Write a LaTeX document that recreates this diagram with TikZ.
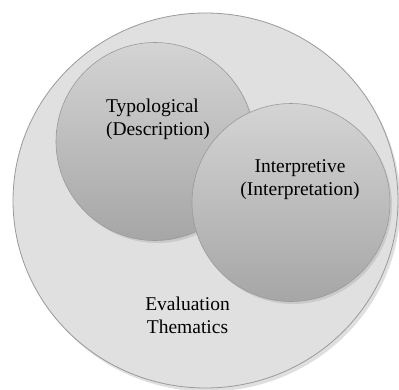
\documentclass[tikz,border=0pt]{standalone}
\usepackage{fontspec}
\setmainfont{Liberation Serif}
\usetikzlibrary{shapes.geometric,shadows}
\definecolor{outerfill}{HTML}{E0E0E0}
\definecolor{rimgray}{HTML}{9A9A9A}
\definecolor{toplight}{HTML}{D4D4D4}
\definecolor{botdark}{HTML}{A6A6A6}
\tikzset{
  outerset/.style={ellipse, draw=rimgray, line width=0.8pt, fill=outerfill,
    minimum width=385pt, minimum height=375pt, inner sep=0pt,
    drop shadow={shadow xshift=2.5pt, shadow yshift=-3.5pt, opacity=0.25, fill=gray}},
  ballset/.style={circle, draw=rimgray, line width=0.6pt, top color=toplight, bottom color=botdark,
    minimum size=198pt, inner sep=0pt,
    drop shadow={shadow xshift=2pt, shadow yshift=-2.5pt, opacity=0.22, fill=gray}},
  labelset/.style={font=\fontsize{19.5}{23}\selectfont, text=black, inner sep=0pt}
}
\begin{document}
\begin{tikzpicture}[x=1pt,y=-1pt]
\useasboundingbox (0,0) rectangle (399,389);
\node[outerset] (outer) at (205.5,200.5) {};
\node[ballset] (typ) at (155,141.5) {};
\node[ballset] (intp) at (291,202.5) {};
\node[labelset, align=left] (typlabel) at (158,119) {Typological\\(Description)};
\node[labelset, align=center] (intlabel) at (300,180) {Interpretive\\(Interpretation)};
\node[labelset, align=center] (evallabel) at (187.5,315) {Evaluation\\Thematics};
\end{tikzpicture}
\end{document}
